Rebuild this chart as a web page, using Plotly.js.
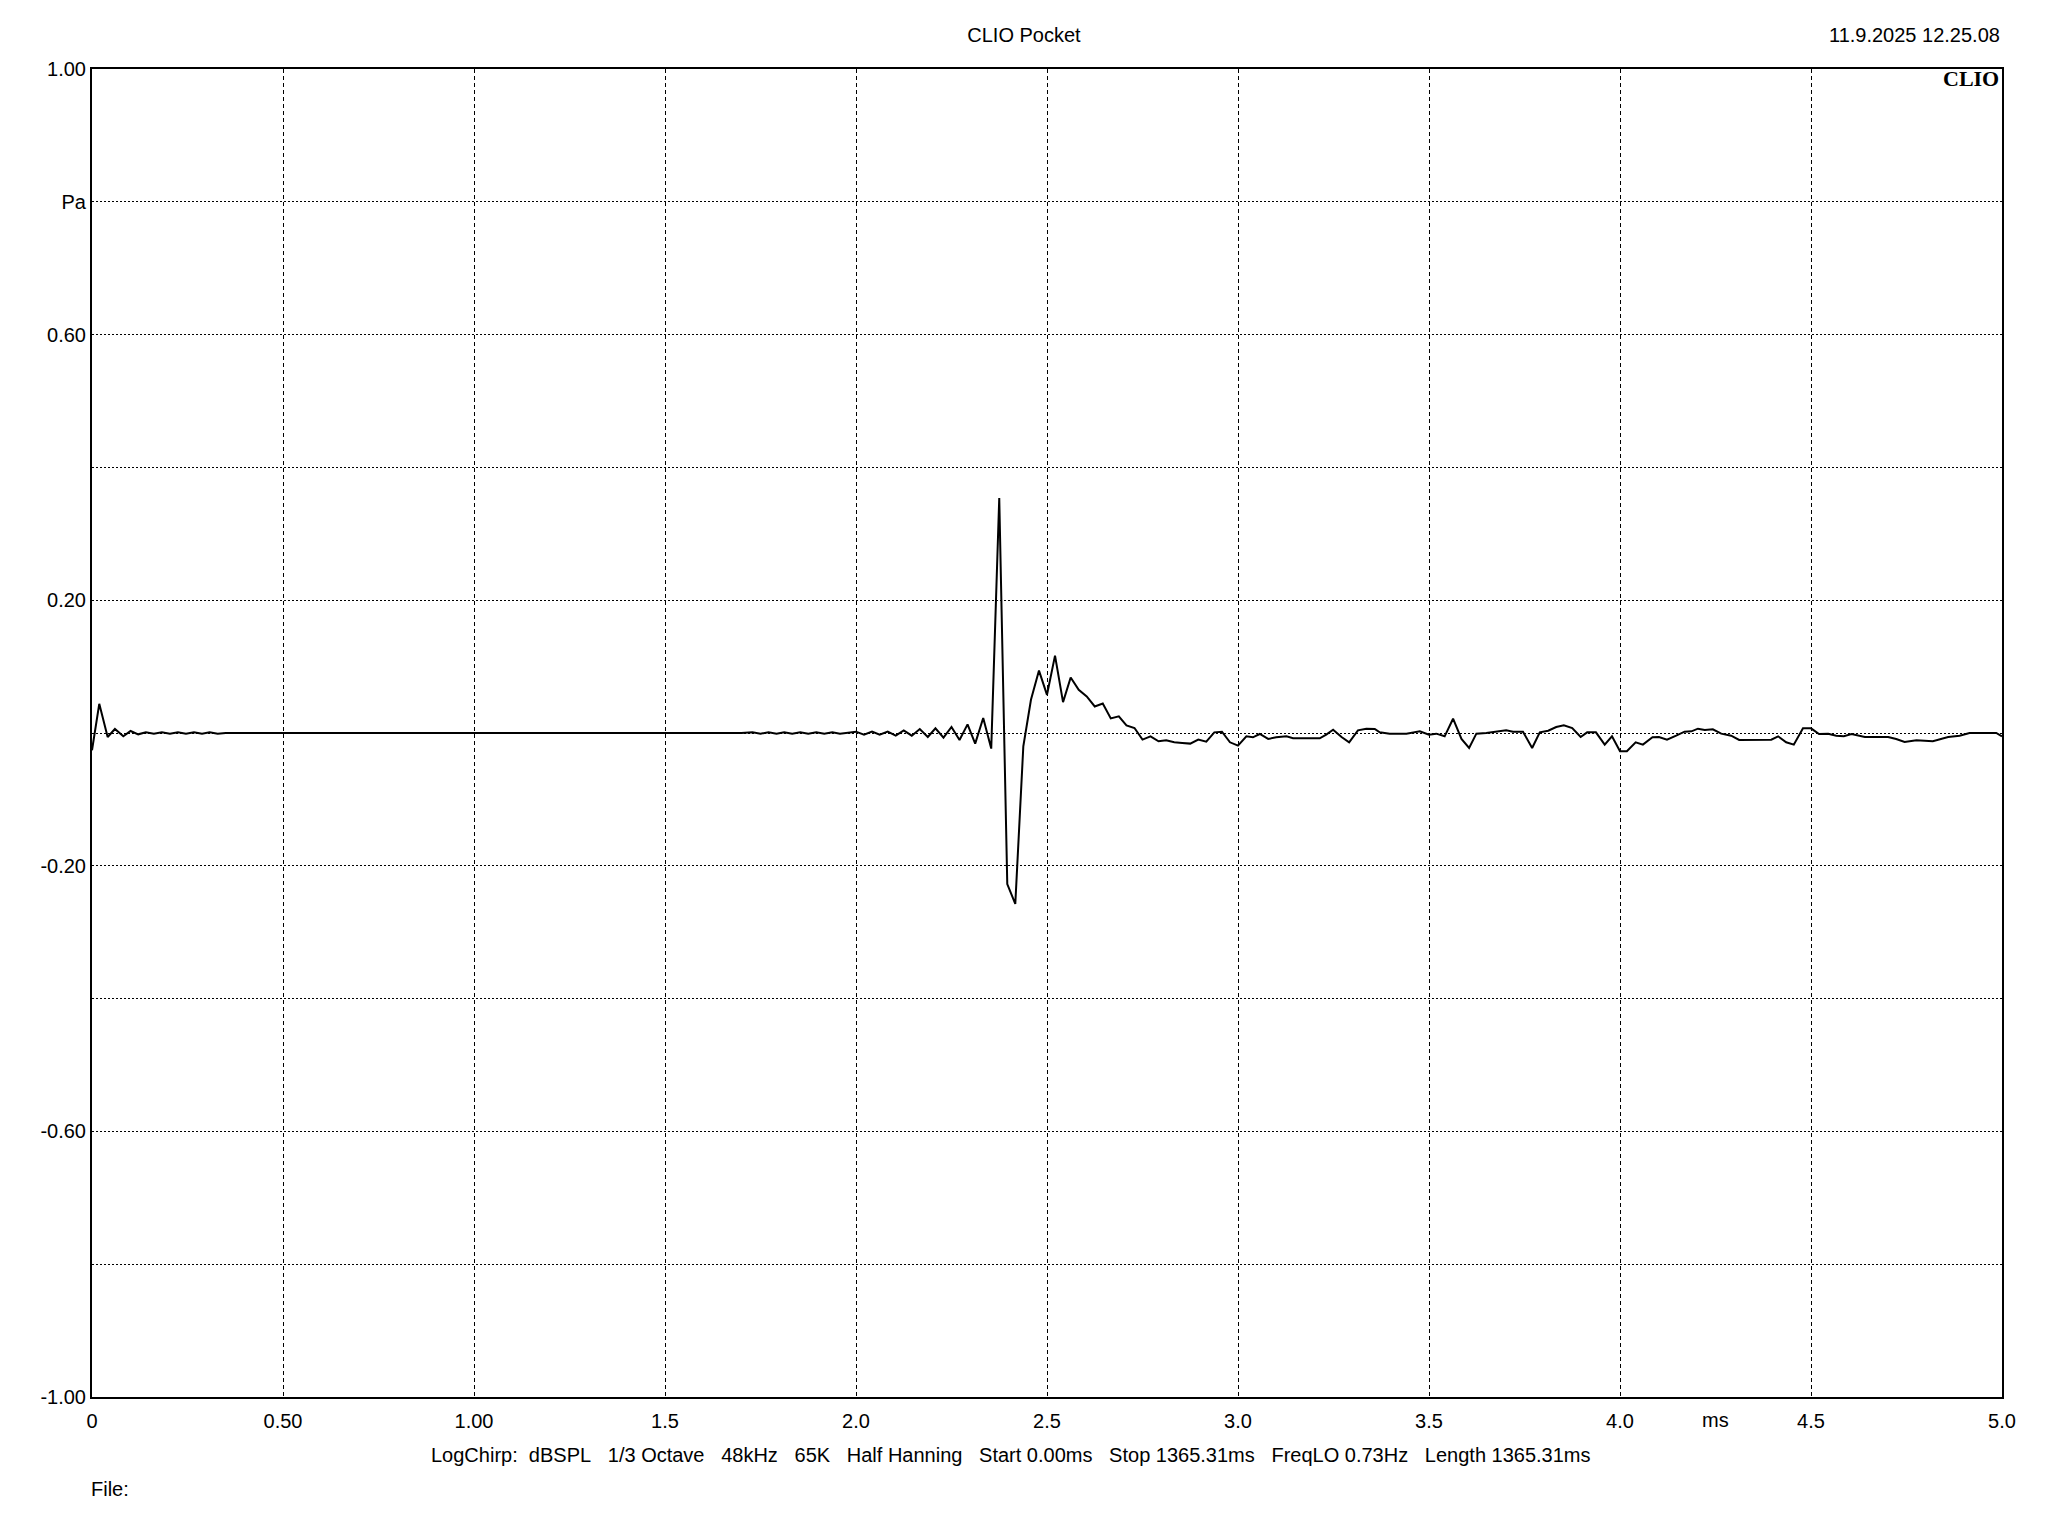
<!DOCTYPE html>
<html>
<head>
<meta charset="utf-8">
<script src="https://cdn.plot.ly/plotly-3.0.1.min.js"></script>
<style>html,body{margin:0;padding:0;background:#fff;}#chart{width:2048px;height:1536px;}</style>
</head>
<body>
<div id="chart"></div>
<script>
// Impulse response samples (time in ms, pressure in Pa)
var timeMs = [
  0.000, 0.019, 0.041, 0.060, 0.082, 0.101, 0.121, 0.141, 0.162, 0.183, 0.204, 0.225, 0.246, 0.267, 0.288, 0.308, 0.329, 0.350,
  1.700, 1.729, 1.750, 1.771, 1.792, 1.812, 1.833, 1.854, 1.875, 1.896, 1.917, 1.938, 1.958, 1.979,
  2.000, 2.021, 2.042, 2.062, 2.083, 2.104, 2.125, 2.146, 2.167, 2.188, 2.208, 2.229, 2.250, 2.271, 2.292, 2.312, 2.333, 2.354,
  2.375, 2.396, 2.417, 2.438, 2.458, 2.479, 2.500, 2.521, 2.542, 2.562, 2.583, 2.604, 2.625, 2.646, 2.667, 2.688, 2.708, 2.729,
  2.750, 2.771, 2.792, 2.812, 2.833, 2.854, 2.875, 2.896, 2.917, 2.938, 2.958, 2.979,
  3.000, 3.022, 3.039, 3.057, 3.079, 3.100, 3.127, 3.144, 3.214, 3.231, 3.249, 3.271, 3.291, 3.314, 3.336, 3.358, 3.371, 3.397,
  3.441, 3.476, 3.500, 3.519, 3.541, 3.563, 3.585, 3.605, 3.624, 3.650, 3.676, 3.702, 3.720, 3.746, 3.770, 3.790, 3.812, 3.833,
  3.853, 3.875, 3.897, 3.914, 3.937, 3.960, 3.979, 4.000, 4.018, 4.041, 4.060, 4.085, 4.102, 4.123, 4.147, 4.169, 4.187, 4.204,
  4.222, 4.243, 4.265, 4.291, 4.312, 4.396, 4.414, 4.435, 4.455, 4.479, 4.500, 4.521, 4.545, 4.566, 4.586, 4.606, 4.641, 4.702,
  4.723, 4.745, 4.776, 4.819, 4.859, 4.889, 4.915, 4.985, 5.000
];
var pressurePa = [
  -0.026, 0.044, -0.006, 0.006, -0.005, 0.003, -0.002, 0.001, -0.001, 0.001, -0.001, 0.001, -0.001, 0.001, -0.001, 0.001, -0.001, 0.000,
  0.000, 0.001, -0.001, 0.001, -0.001, 0.001, -0.001, 0.001, -0.001, 0.001, -0.001, 0.001, -0.001, 0.001,
  0.002, -0.0026, 0.002, -0.0026, 0.002, -0.004, 0.004, -0.004, 0.006, -0.006, 0.007, -0.007, 0.009, -0.0105, 0.013, -0.016, 0.0225, -0.0235,
  0.354, -0.2275, -0.2575, -0.020, 0.050, 0.094, 0.0575, 0.1165, 0.0465, 0.0835, 0.065, 0.055, 0.040, 0.0445, 0.022, 0.025, 0.0115, 0.0075,
  -0.010, -0.005, -0.0125, -0.011, -0.014, -0.015, -0.016, -0.010, -0.013, 0.001, 0.002, -0.014,
  -0.019, -0.005, -0.0065, -0.0015, -0.009, -0.0065, -0.005, -0.008, -0.008, -0.0025, 0.005, -0.006, -0.014, 0.004, 0.0065, 0.006, 0.001, -0.001,
  -0.001, 0.0025, -0.0025, -0.001, -0.005, 0.0215, -0.009, -0.0225, -0.001, 0.000, 0.0025, 0.004, 0.002, 0.002, -0.0225, 0.001, 0.0035, 0.009,
  0.0115, 0.0075, -0.006, 0.001, 0.001, -0.0175, -0.005, -0.0275, -0.0275, -0.014, -0.0175, -0.0065, -0.006, -0.010, -0.004, 0.002, 0.0025, 0.0065,
  0.0045, 0.0055, -0.001, -0.004, -0.0105, -0.010, -0.005, -0.014, -0.0175, 0.007, 0.007, -0.0015, -0.001, -0.004, -0.005, -0.0015, -0.006, -0.006,
  -0.009, -0.0135, -0.011, -0.0125, -0.006, -0.004, 0.000, 0.000, -0.005
];

var xTickVals = [0, 0.5, 1.0, 1.5, 2.0, 2.5, 3.0, 3.5, 4.0, 4.5, 5.0];
var xTickText = ["0", "0.50", "1.00", "1.5", "2.0", "2.5", "3.0", "3.5", "4.0", "4.5", "5.0"];
var yTickVals = [-1.0, -0.8, -0.6, -0.4, -0.2, 0.0, 0.2, 0.4, 0.6, 0.8, 1.0];
var yTickText = ["-1.00", "", "-0.60", "", "-0.20", "", "0.20", "", "0.60", "Pa", "1.00"];

var titleText = "CLIO Pocket";
var dateText = "11.9.2025 12.25.08";
var xUnit = "ms";
var infoParts = ["LogChirp:", "dBSPL", "1/3 Octave", "48kHz", "65K", "Half Hanning", "Start 0.00ms", "Stop 1365.31ms", "FreqLO 0.73Hz", "Length 1365.31ms"];
var fileText = "File:";

var NB = "\u00A0";
var infoText = infoParts[0] + NB + NB + infoParts.slice(1).join(NB + NB + NB);

var font = "Liberation Sans, Arial, sans-serif";
var fs = 20;

var trace = {
  x: timeMs, y: pressurePa, type: "scatter", mode: "lines",
  line: {color: "#000000", width: 2},
  hoverinfo: "skip"
};

var layout = {
  width: 2048, height: 1536,
  paper_bgcolor: "#ffffff", plot_bgcolor: "#ffffff",
  margin: {l: 92, r: 46, t: 69, b: 139, pad: 0},
  showlegend: false,
  font: {family: font, size: fs, color: "#000000"},
  title: {text: titleText, x: 0.5, xref: "container", xanchor: "center",
          y: 1 - 35 / 1536, yref: "container", yanchor: "middle",
          font: {family: font, size: fs, color: "#000000"}},
  xaxis: {
    range: [0, 5], autorange: false, fixedrange: true,
    tickmode: "array", tickvals: xTickVals, ticktext: xTickText,
    ticks: "", ticklabelstandoff: 5, showgrid: true, gridcolor: "#000000", gridwidth: 1, griddash: "4px,3px",
    zeroline: false, showline: true, linecolor: "#000000", linewidth: 2, mirror: true,
    tickfont: {family: font, size: fs, color: "#000000"}
  },
  yaxis: {
    range: [-1, 1], autorange: false, fixedrange: true,
    tickmode: "array", tickvals: yTickVals, ticktext: yTickText,
    ticks: "", showgrid: true, gridcolor: "#000000", gridwidth: 1, griddash: "2px,2px",
    zeroline: false, showline: true, linecolor: "#000000", linewidth: 2, mirror: true,
    tickfont: {family: font, size: fs, color: "#000000"}
  },
  annotations: [
    {text: dateText, xref: "paper", yref: "paper", x: 1, y: (1397 - 35) / 1328,
     xanchor: "right", yanchor: "middle", showarrow: false,
     font: {family: font, size: fs, color: "#000000"}},
    {text: "<b>CLIO</b>", xref: "paper", yref: "paper", x: 1, y: 1, xshift: -1, yshift: 5,
     xanchor: "right", yanchor: "top", showarrow: false,
     font: {family: "Liberation Serif, Times New Roman, serif", size: 22, color: "#000000"}},
    {text: xUnit, xref: "x", yref: "paper", x: 4.25, y: 0, yanchor: "middle", yshift: -23,
     xanchor: "center", showarrow: false,
     font: {family: font, size: fs, color: "#000000"}},
    {text: infoText, xref: "paper", yref: "paper", x: (1011 - 92) / 1910, y: -(1455 - 1397) / 1328,
     xanchor: "center", yanchor: "middle", showarrow: false,
     font: {family: font, size: fs, color: "#000000"}},
    {text: fileText, xref: "paper", yref: "paper", x: 0, y: -(1489 - 1397) / 1328, xshift: -3,
     xanchor: "left", yanchor: "middle", showarrow: false,
     font: {family: font, size: fs, color: "#000000"}}
  ]
};

Plotly.newPlot("chart", [trace], layout, {staticPlot: true, displayModeBar: false});
</script>
</body>
</html>
